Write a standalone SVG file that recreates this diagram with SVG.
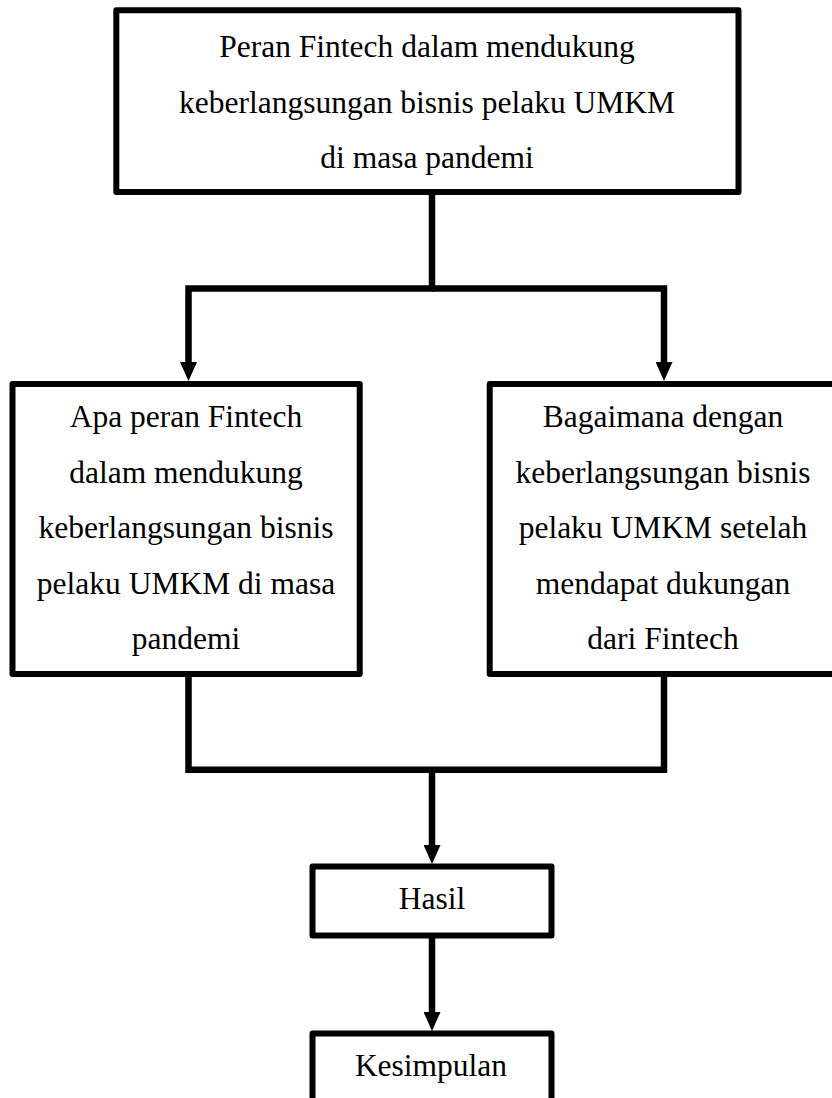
<svg xmlns="http://www.w3.org/2000/svg" width="832" height="1098" viewBox="0 0 832 1098">
<style>
.box{fill:#fff;stroke:#000;stroke-width:6;stroke-linejoin:round}
.t{font-family:"Liberation Serif","Times New Roman",serif;font-size:31.5px;fill:#000;text-anchor:middle}
.c{fill:none;stroke:#000;stroke-width:6.5;stroke-linejoin:miter}
</style>
<defs>
<marker id="ah" markerUnits="userSpaceOnUse" markerWidth="19" markerHeight="17" viewBox="0 0 19 17" refX="0" refY="8.5" orient="auto">
<path d="M0 0 L19 8.5 L0 17 Z" fill="#000"/>
</marker>
</defs>
<rect width="832" height="1098" fill="#fff"/>
<g id="connectors">
<path class="c" d="M432 192 V288.5 H188.5 V362" marker-end="url(#ah)"/>
<path class="c" d="M432 288.5 H664 V362" marker-end="url(#ah)"/>
<path class="c" d="M188.5 674 V769.7 H664 V674"/>
<path class="c" d="M432 769.7 V845" marker-end="url(#ah)"/>
<path class="c" d="M432 935.5 V1012" marker-end="url(#ah)"/>
</g>
<g id="top">
<rect class="box" x="116.3" y="10.3" width="622.2" height="181.7"/>
<text class="t" x="427" y="57">Peran Fintech dalam mendukung</text>
<text class="t" x="427" y="112.5">keberlangsungan bisnis pelaku UMKM</text>
<text class="t" x="427" y="168">di masa pandemi</text>
</g>
<g id="left">
<rect class="box" x="12.5" y="384" width="347.2" height="290"/>
<text class="t" x="186" y="427">Apa peran Fintech</text>
<text class="t" x="186" y="482.5">dalam mendukung</text>
<text class="t" x="186" y="538">keberlangsungan bisnis</text>
<text class="t" x="186" y="593.5">pelaku UMKM di masa</text>
<text class="t" x="186" y="649">pandemi</text>
</g>
<g id="right">
<rect class="box" x="489.7" y="384" width="347" height="290"/>
<text class="t" x="663" y="427">Bagaimana dengan</text>
<text class="t" x="663" y="482.5">keberlangsungan bisnis</text>
<text class="t" x="663" y="538">pelaku UMKM setelah</text>
<text class="t" x="663" y="593.5">mendapat dukungan</text>
<text class="t" x="663" y="649">dari Fintech</text>
</g>
<g id="hasil">
<rect class="box" x="312.5" y="866.5" width="239" height="69"/>
<text class="t" x="432" y="909">Hasil</text>
</g>
<g id="kesimpulan">
<rect class="box" x="312.5" y="1033.5" width="239" height="80"/>
<text class="t" x="431" y="1076">Kesimpulan</text>
</g>
</svg>
